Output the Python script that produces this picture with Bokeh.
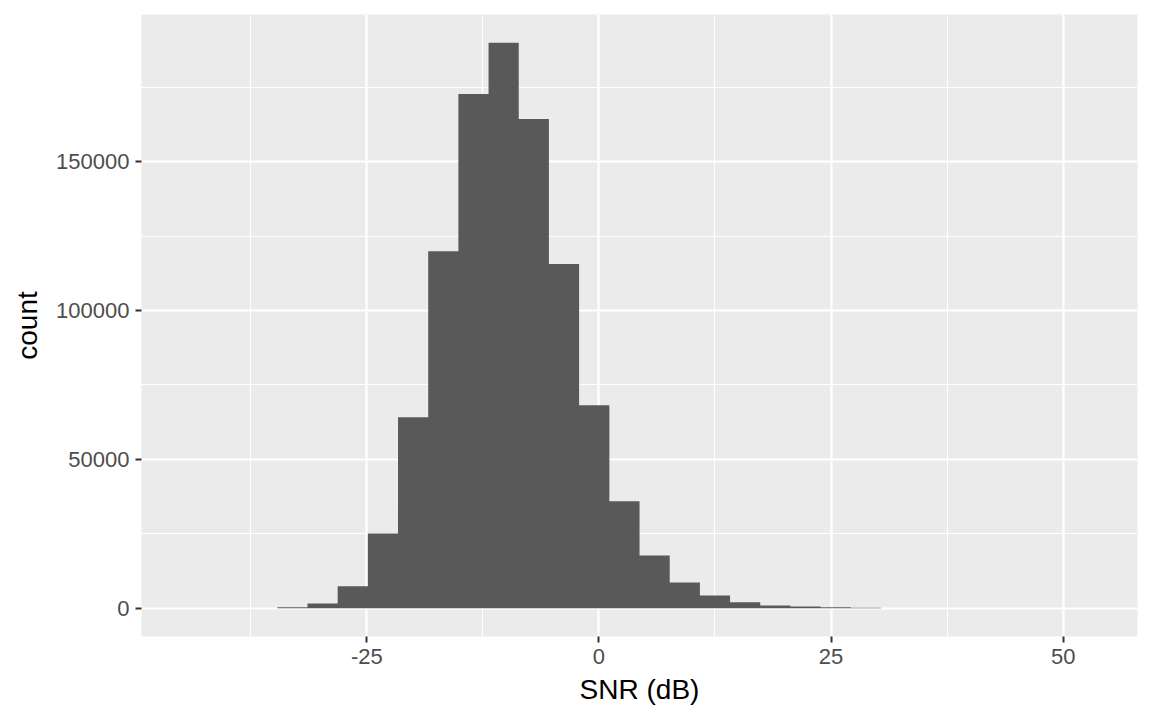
from bokeh.plotting import figure
from bokeh.models import FixedTicker, Range1d, NumeralTickFormatter
from bokeh.embed import file_html
from bokeh.resources import INLINE

# Histogram bins (centres in dB) and counts
bin_centers = [-42.76, -39.51, -36.26, -33.01, -29.76, -26.51, -23.26, -20.01,
               -16.76, -13.51, -10.26, -7.01, -3.76, -0.51, 2.75, 6.00,
               9.25, 12.50, 15.75, 19.00, 22.25, 25.50, 28.75, 32.00,
               35.25, 38.50, 41.75, 45.00, 48.25, 51.50]
counts = [1, 3, 15, 330, 1580, 7400, 25100, 64100,
          119900, 172700, 189900, 164300, 115600, 68200, 35900, 17700,
          8600, 4270, 2000, 900, 570, 300, 200, 30,
          12, 6, 3, 2, 1, 1]
bin_width = 3.25

x_ticks = [-25, 0, 25, 50]
x_minor = [-37.5, -12.5, 12.5, 37.5]
y_ticks = [0, 50000, 100000, 150000]
y_minor = [25000, 75000, 125000, 175000]

FONT = "Liberation Sans"

p = figure(frame_width=996, frame_height=622, width=1152, height=720,
           output_backend="svg", toolbar_location=None,
           x_range=Range1d(-49.26, 58.0), y_range=Range1d(-9495, 199395),
           min_border_left=141, min_border_top=14, min_border_right=15,
           min_border_bottom=84)

p.background_fill_color = "#EBEBEB"
p.border_fill_color = "white"
p.outline_line_color = None

# draw the histogram as one stepped area so adjacent bars have no seams
edges = [c - bin_width / 2 for c in bin_centers] + [bin_centers[-1] + bin_width / 2]
heights = counts + [counts[-1]]
p.varea_step(x=edges, y1=[0] * len(edges), y2=heights, step_mode="after",
             fill_color="#595959")

p.xaxis.ticker = FixedTicker(ticks=x_ticks, minor_ticks=x_minor)
p.yaxis.ticker = FixedTicker(ticks=y_ticks, minor_ticks=y_minor)
p.yaxis.formatter = NumeralTickFormatter(format="0")
p.xaxis.major_label_overrides = {t: str(t) for t in x_ticks}

for g in (p.xgrid, p.ygrid):
    g.grid_line_color = "white"
    g.grid_line_width = 2.2
    g.minor_grid_line_color = "white"
    g.minor_grid_line_width = 1.1

for ax in (p.xaxis, p.yaxis):
    ax.axis_line_color = None
    ax.major_tick_line_color = "#333333"
    ax.major_tick_line_width = 2
    ax.major_tick_out = 6
    ax.major_tick_in = 0
    ax.minor_tick_line_color = None
    ax.major_label_text_font = FONT
    ax.major_label_text_font_size = "22px"
    ax.major_label_text_color = "#4D4D4D"
    ax.major_label_standoff = 6
    ax.axis_label_text_font = FONT
    ax.axis_label_text_font_size = "28px"
    ax.axis_label_text_font_style = "normal"
    ax.axis_label_text_color = "black"
    ax.axis_label_standoff = 7

p.yaxis.axis_label_standoff = 10
p.xaxis.axis_label = "SNR (dB)"
p.yaxis.axis_label = "count"

open("out.html", "w").write(file_html(p, INLINE))
